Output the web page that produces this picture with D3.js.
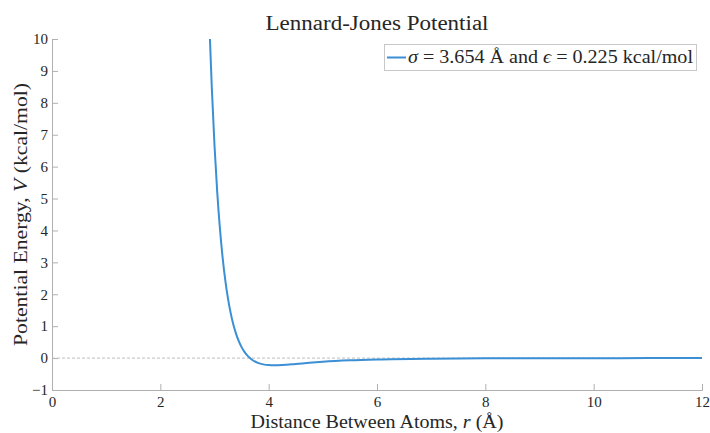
<!DOCTYPE html>
<html>
<head>
<meta charset="utf-8">
<script src="https://cdn.jsdelivr.net/npm/d3@7"></script>
<style>
  body { margin: 0; background: #fff; }
  text { font-family: "Liberation Serif", serif; fill: #262626; }
</style>
</head>
<body>
<div id="root"></div>
<script>
// values (r in Angstrom, V in kcal/mol)
const rValues = [2.916, 2.95, 3.0, 3.05, 3.1, 3.15, 3.2, 3.25, 3.3, 3.35, 3.4, 3.45, 3.5, 3.55, 3.6, 3.654,
  3.7, 3.8, 3.9, 4.0, 4.1, 4.25, 4.5, 4.75, 5.0, 5.5, 6.0, 7.0, 8.0, 9.0, 10.0, 11.0, 12.0];
const vValues = [10.0, 8.49, 6.66, 5.21, 4.06, 3.15, 2.43, 1.855, 1.40, 1.035, 0.750, 0.523, 0.344, 0.203, 0.092, 0.0,
  -0.060, -0.149, -0.197, -0.219, -0.225, -0.217, -0.184, -0.148, -0.116, -0.071, -0.044, -0.018, -0.008, -0.004, -0.002, -0.001, -0.001];
const xTicks = [0, 2, 4, 6, 8, 10, 12];
const yTicks = [-1, 0, 1, 2, 3, 4, 5, 6, 7, 8, 9, 10];

const width = 710, height = 433;
const margin = {top: 39, right: 8, bottom: 43, left: 52};

const svg = d3.select('#root').append('svg')
  .attr('width', width)
  .attr('height', height);

const x = d3.scaleLinear().domain([0, 12]).range([margin.left, width - margin.right]);
const y = d3.scaleLinear().domain([-1, 10]).range([height - margin.bottom, margin.top]);

const axisColor = '#b0b0b0';
const serif = '"Liberation Serif", serif';

// x axis, ticks pointing inward
const gx = svg.append('g')
  .attr('transform', `translate(0,${y(-1)})`)
  .call(d3.axisBottom(x).tickValues(xTicks).tickSize(-6).tickPadding(6));
// y axis
const gy = svg.append('g')
  .attr('transform', `translate(${x(0)},0)`)
  .call(d3.axisLeft(y).tickValues(yTicks).tickSize(-6).tickPadding(4));

[gx, gy].forEach(g => {
  g.attr('font-family', serif).attr('font-size', 15);
  g.select('.domain').attr('stroke', axisColor);
  g.selectAll('.tick line').attr('stroke', axisColor);
  g.selectAll('.tick text').attr('fill', '#404040').style('font-size', '15px');
});

// zero reference line
svg.append('line')
  .attr('x1', x(0)).attr('x2', x(12))
  .attr('y1', y(0)).attr('y2', y(0))
  .attr('stroke', '#bdbdbd')
  .attr('stroke-width', 1)
  .attr('stroke-dasharray', '3,2');

// the curve
const pts = rValues.map((r, i) => [r, vValues[i]]);
svg.append('path')
  .datum(pts)
  .attr('fill', 'none')
  .attr('stroke', '#3b8fd4')
  .attr('stroke-width', 2)
  .attr('d', d3.line().x(d => x(d[0])).y(d => y(d[1])).curve(d3.curveMonotoneX));

// title
svg.append('text')
  .attr('x', (x(0) + x(12)) / 2)
  .attr('y', 30)
  .attr('text-anchor', 'middle')
  .attr('textLength', 223)
  .attr('lengthAdjust', 'spacingAndGlyphs')
  .style('font-size', '20px')
  .text('Lennard-Jones Potential');

// axis labels
const xl = svg.append('text')
  .attr('x', (x(0) + x(12)) / 2)
  .attr('y', 428)
  .attr('text-anchor', 'middle')
  .attr('textLength', 253)
  .attr('lengthAdjust', 'spacingAndGlyphs')
  .style('font-size', '19px');
xl.append('tspan').text('Distance Between Atoms, ');
xl.append('tspan').style('font-style', 'italic').text('r');
xl.append('tspan').text(' (Å)');

const yl = svg.append('text')
  .attr('transform', `translate(27,${(y(-1) + y(10)) / 2}) rotate(-90)`)
  .attr('text-anchor', 'middle')
  .attr('textLength', 263)
  .attr('lengthAdjust', 'spacingAndGlyphs')
  .style('font-size', '19px');
yl.append('tspan').text('Potential Energy, ');
yl.append('tspan').style('font-style', 'italic').text('V');
yl.append('tspan').text(' (kcal/mol)');

// legend
const lg = svg.append('g');
lg.append('rect')
  .attr('x', 384.5).attr('y', 44.5)
  .attr('width', 312).attr('height', 26)
  .attr('fill', '#fff')
  .attr('stroke', '#c8c8c8');
lg.append('line')
  .attr('x1', 387).attr('x2', 406)
  .attr('y1', 57.5).attr('y2', 57.5)
  .attr('stroke', '#3b8fd4').attr('stroke-width', 2);
const lt = lg.append('text')
  .attr('x', 408).attr('y', 63)
  .attr('textLength', 285)
  .attr('lengthAdjust', 'spacingAndGlyphs')
  .style('font-size', '18px');
lt.append('tspan').style('font-style', 'italic').text('σ');
lt.append('tspan').text(' = 3.654 Å and ');
lt.append('tspan').style('font-style', 'italic').text('ϵ');
lt.append('tspan').text(' = 0.225 kcal/mol');
</script>
</body>
</html>
